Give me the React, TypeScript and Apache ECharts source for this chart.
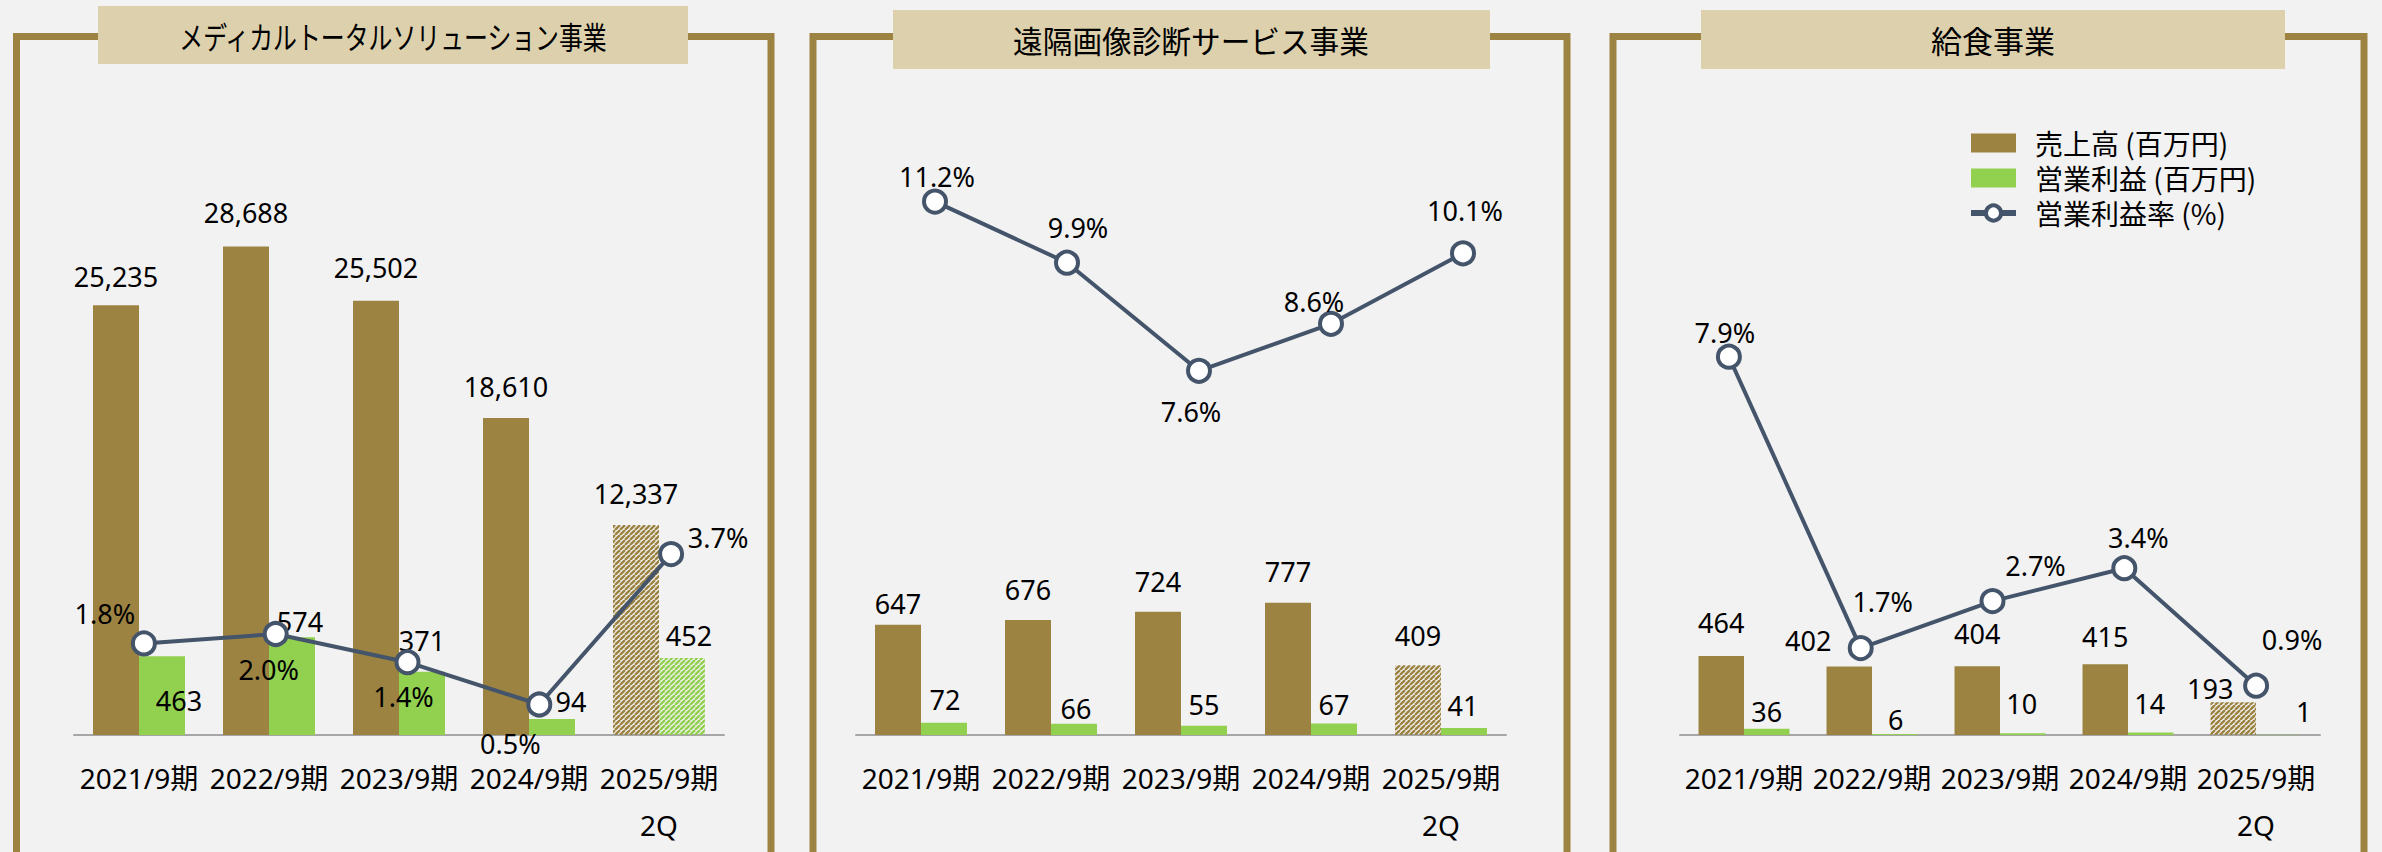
import React, { useEffect, useRef } from 'react';
import * as echarts from 'echarts';

// ---------- data ----------
const categories = ['2021/9期', '2022/9期', '2023/9期', '2024/9期', '2025/9期\n2Q'];
const seriesNames = ['売上高 (百万円)', '営業利益 (百万円)', '営業利益率 (%)'];
const panelTitles = ['メディカルトータルソリューション事業', '遠隔画像診断サービス事業', '給食事業'];

const medicalSales = [25235, 28688, 25502, 18610, 12337];
const medicalProfit = [463, 574, 371, 94, 452];
const medicalMargin = [1.8, 2.0, 1.4, 0.5, 3.7];

const teleSales = [647, 676, 724, 777, 409];
const teleProfit = [72, 66, 55, 67, 41];
const teleMargin = [11.2, 9.9, 7.6, 8.6, 10.1];

const foodSales = [464, 402, 404, 415, 193];
const foodProfit = [36, 6, 10, 14, 1];
const foodMargin = [7.9, 1.7, 2.7, 3.4, 0.9];

// ---------- style ----------
const GOLD = '#9C8342';
const GREEN = '#92D050';
const SLATE = '#44546A';
const BG = '#F2F2F2';
const TITLE_BG = '#DDD0AD';
const NUM_FONT = '"Noto Sans", "Noto Sans CJK JP", sans-serif';
const JP_FONT = '"Noto Sans CJK JP", "Noto Sans", sans-serif';

const BAR_TOP = 139;
const BAR_H = 596;
const LINE_TOP = 128;
const LINE_H = 600;
const MARGIN_MAX = 600 / 47;

const layouts = [
  {
    frameL: 16.5, frameR: 771, box: [98, 6, 590, 58], titleX: 393, titleY: 36, titleScale: 0.77,
    barLeft: 74, barW: 650, barWidth: 46, lineLeft: 78, lineW: 659,
    salesMax: 35000, profitMax: 3500, hatchProfit: true,
    salesNudge: [[0, -29], [0, -34], [0, -33], [0, -32], [0, -31]],
    profitNudge: [[17, 44], [8, -16], [0, -31], [19, -17], [7, -23]],
    marginNudge: [[-39, -30], [-7, 35], [-4, 34], [-29, 39], [47, -17]],
  },
  {
    frameL: 813, frameR: 1567, box: [893, 10, 597, 59], titleX: 1191, titleY: 40, titleScale: 0.957,
    barLeft: 856, barW: 650, barWidth: 46, lineLeft: 869, lineW: 660,
    salesMax: 3500, profitMax: 3500, hatchProfit: false,
    salesNudge: [[0, -21], [0, -30], [0, -30], [0, -31], [0, -30]],
    profitNudge: [[1, -23], [2, -15], [0, -21], [0, -19], [-1, -23]],
    marginNudge: [[2, -25], [11, -35], [-8, 41], [-17, -22], [2, -43]],
  },
  {
    frameL: 1613, frameR: 2364, box: [1701, 10, 584, 59], titleX: 1993, titleY: 39, titleScale: 1,
    barLeft: 1680, barW: 640, barWidth: 45.5, lineLeft: 1663, lineW: 659,
    salesMax: 3500, profitMax: 3500, hatchProfit: false,
    salesNudge: [[0, -33], [-41, -26], [0, -33], [0, -28], [-23, -14]],
    profitNudge: [[0, -17], [1, -14], [-1, -30], [-1, -29], [25, -23]],
    marginNudge: [[-4, -24], [22, -47], [43, -36], [14, -31], [36, -46]],
  },
];

const panelData = [
  { sales: medicalSales, profit: medicalProfit, margin: medicalMargin },
  { sales: teleSales, profit: teleProfit, margin: teleMargin },
  { sales: foodSales, profit: foodProfit, margin: foodMargin },
];

function makeHatch(color: string) {
  const s = 5;
  const c = document.createElement('canvas');
  c.width = s;
  c.height = s;
  const ctx = c.getContext('2d')!;
  ctx.strokeStyle = color;
  ctx.lineWidth = 2.4;
  ctx.beginPath();
  for (const o of [-s, 0, s]) {
    ctx.moveTo(o, s);
    ctx.lineTo(o + s, 0);
  }
  ctx.stroke();
  return c;
}

export default function App() {
  const ref = useRef<HTMLDivElement>(null);

  useEffect(() => {
    document.body.style.margin = '0';
    document.body.style.background = BG;
    if (!ref.current) return;
    const chart = echarts.init(ref.current, undefined, { renderer: 'svg' });

    const goldHatch = { image: makeHatch(GOLD), repeat: 'repeat' };
    const greenHatch = { image: makeHatch(GREEN), repeat: 'repeat' };

    const grid: any[] = [];
    const xAxis: any[] = [];
    const yAxis: any[] = [];
    const series: any[] = [];
    const graphic: any[] = [];

    const numLabel = {
      show: true,
      fontSize: 27,
      fontFamily: NUM_FONT,
      color: '#000',
      align: 'center',
      verticalAlign: 'middle',
    };

    layouts.forEach((L, p) => {
      const D = panelData[p];
      grid.push({ left: L.barLeft, width: L.barW, top: BAR_TOP, height: BAR_H, containLabel: false });
      grid.push({ left: L.lineLeft, width: L.lineW, top: LINE_TOP, height: LINE_H, containLabel: false });

      xAxis.push({
        type: 'category',
        gridIndex: 2 * p,
        data: categories,
        axisLine: { show: true, lineStyle: { color: '#A6A6A6', width: 2 } },
        axisTick: { show: false },
        splitLine: { show: false },
        axisLabel: {
          interval: 0,
          fontSize: 28,
          lineHeight: 47,
          margin: 19,
          color: '#000',
          fontFamily: NUM_FONT,
        },
      });
      xAxis.push({ type: 'category', gridIndex: 2 * p + 1, data: categories, show: false });

      yAxis.push({ type: 'value', gridIndex: 2 * p, min: 0, max: L.salesMax, show: false, splitLine: { show: false } });
      yAxis.push({ type: 'value', gridIndex: 2 * p, min: 0, max: L.profitMax, show: false, splitLine: { show: false } });
      yAxis.push({ type: 'value', gridIndex: 2 * p + 1, min: 0, max: MARGIN_MAX, show: false, splitLine: { show: false } });

      series.push({
        name: seriesNames[0],
        type: 'bar',
        xAxisIndex: 2 * p,
        yAxisIndex: 3 * p,
        barWidth: L.barWidth,
        barGap: '0%',
        itemStyle: { color: GOLD },
        label: {
          ...numLabel,
          position: 'top',
          distance: 0,
          formatter: (q: any) => Number(q.value).toLocaleString('en-US'),
        },
        data: D.sales.map((v, i) => ({
          value: v,
          itemStyle: i === 4 ? { color: goldHatch } : undefined,
          label: { offset: L.salesNudge[i] },
        })),
        z: 2,
      });
      series.push({
        name: seriesNames[1],
        type: 'bar',
        xAxisIndex: 2 * p,
        yAxisIndex: 3 * p + 1,
        barWidth: L.barWidth,
        barGap: '0%',
        itemStyle: { color: GREEN },
        label: {
          ...numLabel,
          position: 'top',
          distance: 0,
          formatter: (q: any) => Number(q.value).toLocaleString('en-US'),
        },
        data: D.profit.map((v, i) => ({
          value: v,
          itemStyle: i === 4 && L.hatchProfit ? { color: greenHatch } : undefined,
          label: { offset: L.profitNudge[i] },
        })),
        z: 2,
      });
      series.push({
        name: seriesNames[2],
        type: 'line',
        xAxisIndex: 2 * p + 1,
        yAxisIndex: 3 * p + 2,
        symbol: 'circle',
        symbolSize: 22,
        lineStyle: { color: SLATE, width: 4 },
        itemStyle: { color: '#FFFFFF', borderColor: SLATE, borderWidth: 4 },
        label: {
          ...numLabel,
          position: 'inside',
          formatter: (q: any) => Number(q.value).toFixed(1) + '%',
        },
        data: D.margin.map((v, i) => ({ value: v, label: { offset: L.marginNudge[i] } })),
        z: 5,
      });

      graphic.push({
        type: 'polyline',
        z: 1,
        shape: { points: [[L.frameL, 900], [L.frameL, 36.5], [L.frameR, 36.5], [L.frameR, 900]] },
        style: { stroke: GOLD, lineWidth: 7, fill: 'none' },
        silent: true,
      });
      graphic.push({
        type: 'rect',
        z: 2,
        shape: { x: L.box[0], y: L.box[1], width: L.box[2], height: L.box[3] },
        style: { fill: TITLE_BG },
        silent: true,
      });
      graphic.push({
        type: 'text',
        z: 3,
        x: L.titleX,
        y: L.titleY,
        scaleX: L.titleScale,
        style: {
          text: panelTitles[p],
          x: 0,
          y: 0,
          fontSize: 31,
          fontFamily: JP_FONT,
          fill: '#000',
          align: 'center',
          verticalAlign: 'middle',
        },
        silent: true,
      });
    });

    chart.setOption({
      animation: false,
      backgroundColor: BG,
      grid,
      xAxis,
      yAxis,
      series,
      graphic,
      legend: {
        orient: 'vertical',
        left: 1963,
        top: 124,
        itemWidth: 45,
        itemHeight: 19,
        itemGap: 7,
        selectedMode: false,
        textStyle: {
          fontSize: 28,
          lineHeight: 28,
          fontFamily: JP_FONT,
          color: '#000',
          padding: [0, 0, 0, 14],
        },
        data: [
          { name: seriesNames[0], icon: 'rect' },
          { name: seriesNames[1], icon: 'rect' },
          {
            name: seriesNames[2],
            lineStyle: { width: 6, color: SLATE },
            itemStyle: { color: '#FFFFFF', borderColor: SLATE, borderWidth: 4 },
          },
        ],
      },
    });

    return () => chart.dispose();
  }, []);

  return <div ref={ref} style={{ width: 2382, height: 852 }} />;
}
